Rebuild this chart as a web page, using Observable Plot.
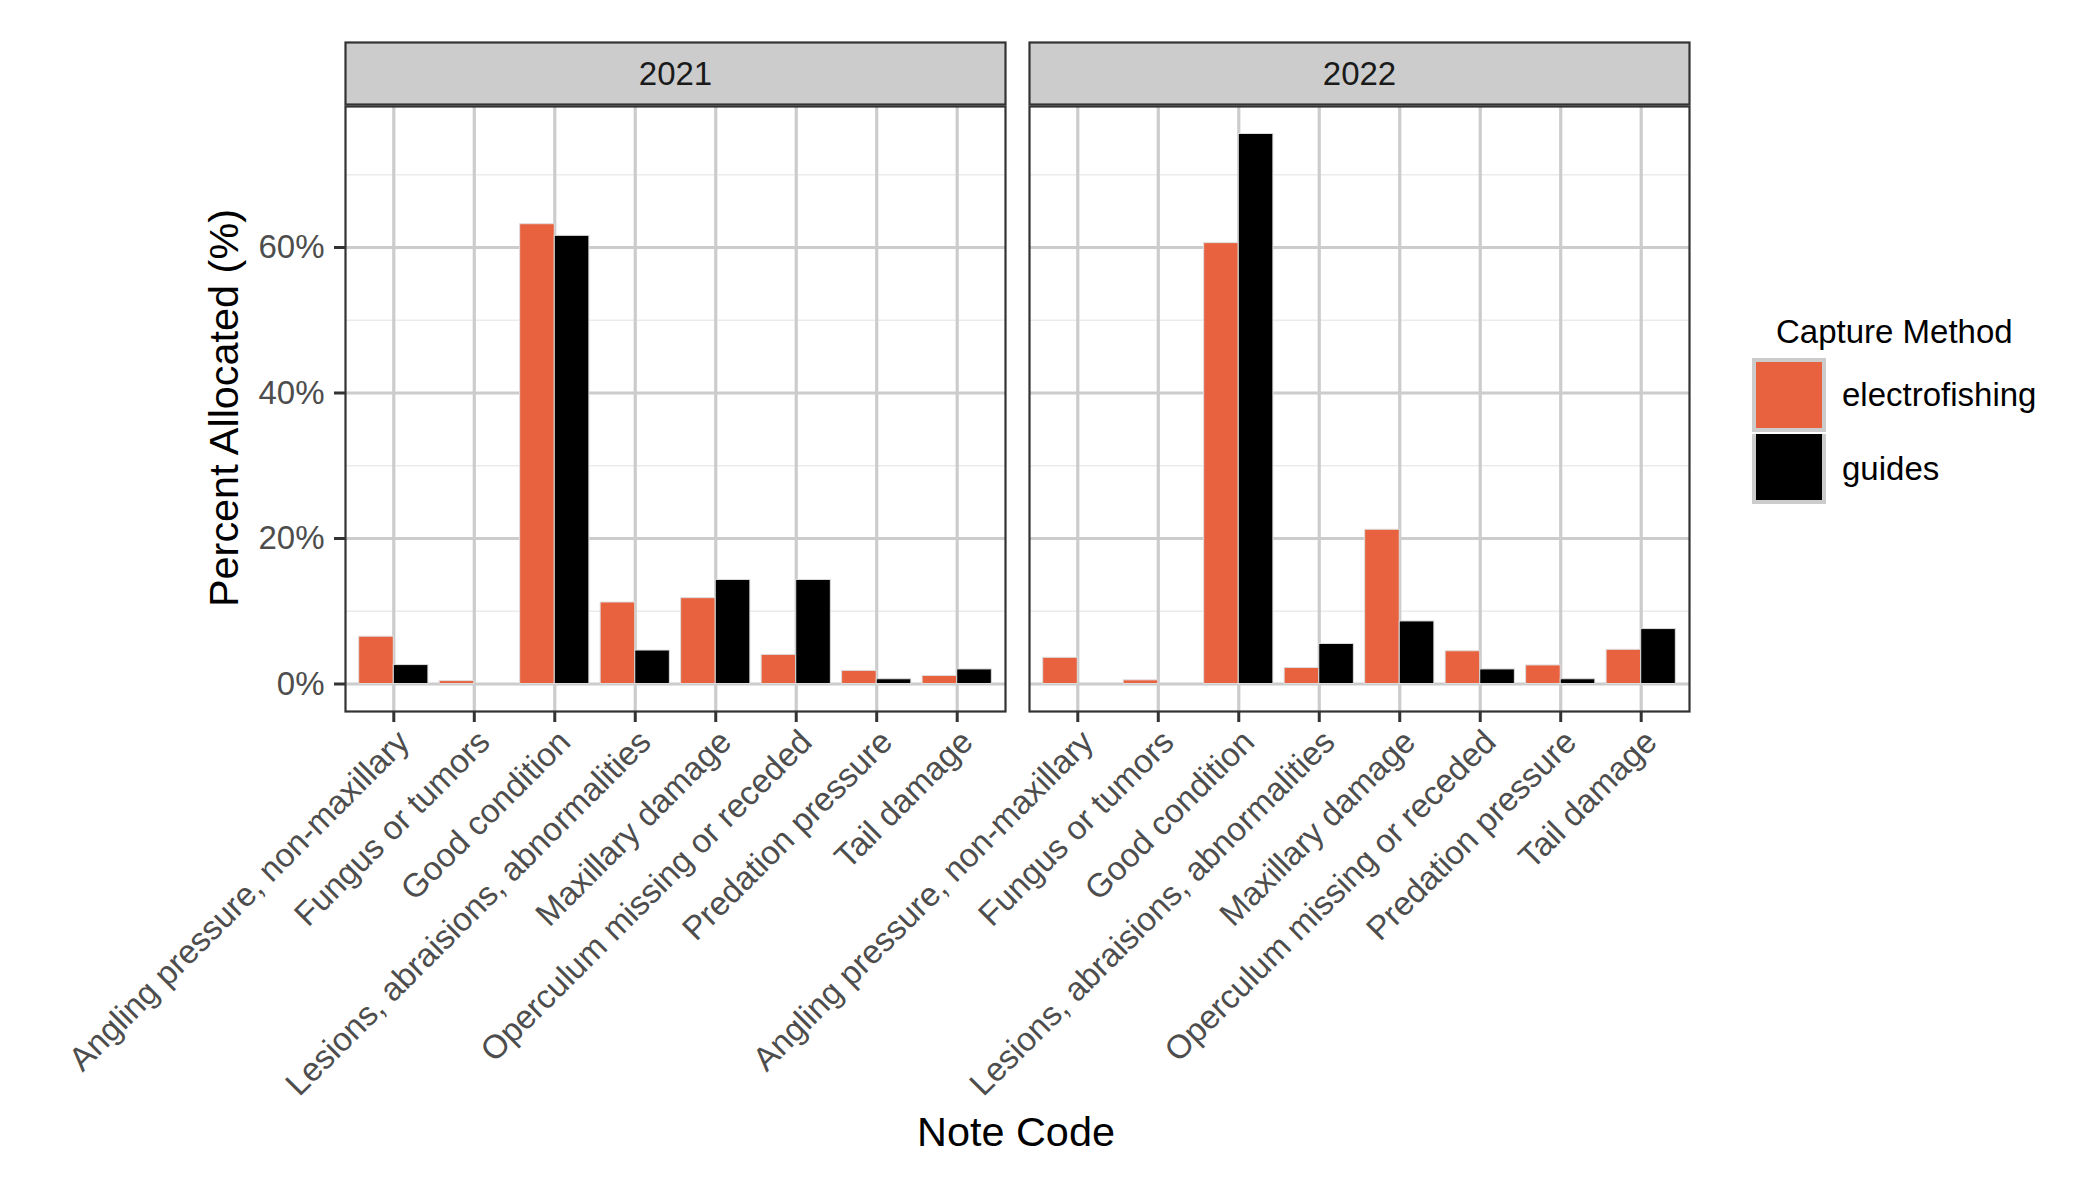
<!DOCTYPE html>
<html>
<head>
<meta charset="utf-8">
<script src="https://cdn.jsdelivr.net/npm/d3@7"></script>
<script src="https://cdn.jsdelivr.net/npm/@observablehq/plot@0.6"></script>
<style>
  body { margin: 0; background: #fff; font-family: "Liberation Sans", Arial, Helvetica, sans-serif; }
  #wrap { position: relative; width: 2100px; height: 1200px; background: #fff; }
  #wrap svg { position: absolute; left: 0; top: 0; }
  .ttl { position: absolute; color: #000; font-size: 41.4px; white-space: nowrap; line-height: 1; }
  #ytitle { left: 225px; top: 408px; transform: translate(-50%, -50%) rotate(-90deg); }
  #xtitle { left: 1016px; top: 1133px; transform: translate(-50%, -50%); }
  #legend { position: absolute; left: 1752px; top: 315px; }
  #legend .lt { font-size: 33px; color: #000; margin-left: 24px; line-height: 1; height: 43px; }
  #legend .row { display: flex; align-items: center; height: 74px; }
  #legend .key { width: 66px; height: 66px; border: 4px solid #cccccc; box-sizing: content-box; }
  #legend .row + .row .key { border-top-width: 0; }
  #legend .lab { font-size: 33px; color: #000; margin-left: 16px; }
</style>
</head>
<body>
<div id="wrap"></div>
<script>
// ---- data ----
const categories = [
  "Angling pressure, non-maxillary",
  "Fungus or tumors",
  "Good condition",
  "Lesions, abraisions, abnormalities",
  "Maxillary damage",
  "Operculum missing or receded",
  "Predation pressure",
  "Tail damage"
];
const years = [2021, 2022];
const methods = ["electrofishing", "guides"];
const methodColors = ["#E8623F", "#000000"];
const electrofishing2021 = [6.5, 0.4, 63.2, 11.2, 11.8, 4.0, 1.8, 1.1];
const guides2021 = [2.6, null, 61.6, 4.6, 14.3, 14.3, 0.65, 2.0];
const electrofishing2022 = [3.6, 0.5, 60.6, 2.2, 21.2, 4.5, 2.55, 4.7];
const guides2022 = [null, null, 75.6, 5.5, 8.6, 2.0, 0.65, 7.55];
const yTicks = [0, 20, 40, 60];
const yMinorTicks = [10, 30, 50, 70];

// ---- build table (dodge within each category) ----
const series = {
  2021: {electrofishing: electrofishing2021, guides: guides2021},
  2022: {electrofishing: electrofishing2022, guides: guides2022}
};
const half = 0.43;
const rows = [];
years.forEach(year => {
  methods.forEach((method, k) => {
    series[year][method].forEach((v, i) => {
      if (v == null) return;
      rows.push({year, method, category: categories[i], value: v,
        x1: i + (k === 0 ? -half : 0), x2: i + (k === 0 ? 0 : half)});
    });
  });
});
const maxV = d3.max(rows, d => d.value);
const expand = maxV * 0.05;
const catIdx = d3.range(categories.length);

const chart = Plot.plot({
  width: 2100,
  height: 1200,
  marginLeft: 344,
  marginRight: 411,
  marginTop: 106,
  marginBottom: 489,
  style: {fontFamily: "'Liberation Sans', Arial, Helvetica, sans-serif", background: "transparent", overflow: "visible"},
  fx: {domain: years, paddingInner: 0.0351, paddingOuter: 0, axis: null, label: null},
  x: {domain: [-0.6, categories.length - 1 + 0.6]},
  y: {domain: [-expand, maxV + expand]},
  color: {domain: methods, range: methodColors},
  marks: [
    Plot.gridY(yMinorTicks, {stroke: "#ebebeb", strokeOpacity: 1, strokeWidth: 1.6}),
    Plot.gridY(yTicks, {stroke: "#cccccc", strokeOpacity: 1, strokeWidth: 3.2}),
    Plot.gridX(catIdx, {stroke: "#cccccc", strokeOpacity: 1, strokeWidth: 3.2}),
    Plot.rectY(rows, {fx: "year", x1: "x1", x2: "x2", y: "value", fill: "method", stroke: "#dddddd", strokeWidth: 1}),
    Plot.frame({stroke: "#333333", strokeWidth: 2.2}),
    Plot.frame({fill: "#cccccc", stroke: "#333333", strokeWidth: 2.2, insetTop: -64, insetBottom: 607}),
    Plot.text(years, {fx: d => d, text: d => String(d), frameAnchor: "top", lineAnchor: "middle", dy: -32, fontSize: 33, fill: "#1a1a1a"}),
    Plot.axisY({ticks: yTicks, tickFormat: d => d + "%", tickSize: 11, tickPadding: 10, fontSize: 33,
      fill: "#4d4d4d", stroke: "#333333", strokeWidth: 3, label: null}),
    Plot.axisX({ticks: catIdx, tickSize: 11, text: null, stroke: "#333333", strokeWidth: 3, label: null}),
    Plot.axisX({ticks: catIdx, tickFormat: i => categories[i], tickRotate: -45, tickSize: 0, tickPadding: 17,
      dx: 10, dy: 8, fontSize: 33.2, fill: "#4d4d4d", label: null})
  ]
});

const wrap = document.getElementById("wrap");
wrap.appendChild(chart);

// axis titles
const yt = document.createElement("div");
yt.className = "ttl"; yt.id = "ytitle"; yt.textContent = "Percent Allocated (%)";
wrap.appendChild(yt);
const xt = document.createElement("div");
xt.className = "ttl"; xt.id = "xtitle"; xt.textContent = "Note Code";
wrap.appendChild(xt);

// legend
const lg = document.createElement("div");
lg.id = "legend";
const lt = document.createElement("div");
lt.className = "lt"; lt.textContent = "Capture Method";
lg.appendChild(lt);
methods.forEach((m, i) => {
  const row = document.createElement("div");
  row.className = "row";
  const key = document.createElement("div");
  key.className = "key";
  key.style.background = methodColors[i];
  const lab = document.createElement("div");
  lab.className = "lab"; lab.textContent = m;
  row.appendChild(key); row.appendChild(lab);
  lg.appendChild(row);
});
wrap.appendChild(lg);
</script>
</body>
</html>
